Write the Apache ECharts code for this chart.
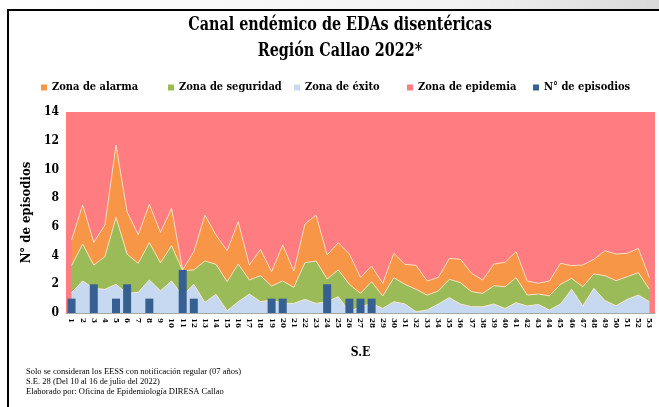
<!DOCTYPE html>
<html>
<head>
<meta charset="utf-8">
<script src="https://cdn.jsdelivr.net/npm/echarts@6/dist/echarts.min.js"></script>
<style>
body{margin:0;background:#fff;}
#chart{width:659px;height:407px;}
</style>
</head>
<body>
<div id="chart"></div>
<script>
// semanas epidemiologicas
var semanas = ['1','2','3','4','5','6','7','8','9','10','11','12','13','14','15','16','17','18','19','20',
	'21','22','23','24','25','26','27','28','29','30','31','32','33','34','35','36','37','38','39','40',
	'41','42','43','44','45','46','47','48','49','50','51','52','53'];
// limite superior de cada zona
var zonaAlarma = [5.08,7.52,4.92,6.13,11.7,7.05,5.45,7.57,5.62,7.29,3.0,4.27,6.82,5.43,4.34,6.36,3.34,4.43,2.88,4.74,
	2.92,6.2,6.82,4.04,4.9,4.11,2.48,3.27,2.07,4.16,3.39,3.32,2.23,2.48,3.81,3.74,2.76,2.3,3.41,3.53,
	4.27,2.23,2.07,2.23,3.46,3.3,3.34,3.74,4.34,4.11,4.16,4.5,2.46];
var zonaSeguridad = [3.3,4.8,3.34,3.92,6.66,4.1,3.46,4.9,3.5,4.69,2.95,3.0,3.62,3.39,2.18,3.41,2.3,2.6,1.88,2.23,
	1.79,3.5,3.62,2.37,3.0,2.0,1.37,2.18,1.18,2.46,2.0,1.65,1.25,1.53,2.35,2.11,1.48,1.37,1.9,1.83,
	2.46,1.25,1.32,1.2,2.0,2.41,1.83,2.72,2.6,2.25,2.53,2.81,1.65];
var zonaExito = [1.42,2.23,1.72,1.65,2.0,1.37,1.44,2.3,1.55,2.23,1.2,2.0,0.74,1.3,0.16,0.79,1.32,0.79,0.9,0.68,
	0.67,0.95,0.67,0.79,1.14,0.1,0.44,0.67,0.32,0.79,0.63,0.09,0.21,0.63,1.07,0.63,0.44,0.44,0.63,0.32,
	0.72,0.49,0.6,0.21,0.63,1.65,0.49,1.72,0.86,0.51,0.95,1.25,0.79];
var episodios = [1,0,2,0,1,2,0,1,0,0,3,1,0,0,0,0,0,0,1,1,0,0,0,2,0,1,1,1];
var yTicks = [0,2,4,6,8,10,12,14];

var fuente = "'DejaVu Serif Condensed','DejaVu Serif',serif";
var fuenteNota = "'Liberation Serif',serif";

function leyenda(nombre,left){
	return {
		left:left,
		top:77,
		icon:'rect',
		itemWidth:6,
		itemHeight:6,
		itemGap:0,
		selectedMode:false,
		textStyle:{color:'#000',fontSize:11,fontWeight:'bold',fontFamily:fuente},
		data:[nombre]
	};
}

function zona(nombre,datos,color,z){
	return {
		name:nombre,
		type:'line',
		data:datos,
		z:z,
		symbol:'none',
		color:color,
		lineStyle:{color:'rgba(255,236,215,0.85)',width:1},
		areaStyle:{color:color,opacity:1,origin:'start'},
		animation:false
	};
}

//titulo, un poco estrecho como en el original
function titulo(texto,y){
	return {
		type:'text',
		x:340,
		y:y,
		scaleX:0.84,
		style:{
			text:texto,
			x:0,
			y:0,
			textAlign:'center',
			textVerticalAlign:'middle',
			fill:'#000',
			fontSize:19,
			fontWeight:'bold',
			fontFamily:fuente
		}
	};
}

var chart = echarts.init(document.getElementById('chart'));
var option = {
	legend:[
		leyenda('Zona de alarma',36),
		leyenda('Zona de seguridad',163),
		leyenda('Zona de éxito',289),
		leyenda('Zona de epidemia',402),
		leyenda('N° de episodios',528)
	],
	grid:{
		left:66,
		right:4,
		top:112,
		bottom:94,
		show:true,
		backgroundColor:'#FF7C80',
		borderWidth:0
	},
	xAxis:{
		type:'category',
		data:semanas,
		name:'S.E',
		nameLocation:'middle',
		nameGap:34,
		nameTextStyle:{color:'#000',fontSize:12,fontWeight:'bold',fontFamily:fuente},
		axisLine:{lineStyle:{color:'#a6a6a6'}},
		axisTick:{show:false},
		axisLabel:{interval:0,hideOverlap:false,rotate:-90,margin:5,color:'#000',fontSize:8,fontWeight:'bold',fontFamily:fuente}
	},
	yAxis:{
		type:'value',
		min:yTicks[0],
		max:yTicks[yTicks.length-1],
		interval:2,
		name:'N° de episodios',
		nameLocation:'middle',
		nameRotate:90,
		nameGap:30,
		nameTextStyle:{color:'#000',fontSize:13,fontWeight:'bold',fontFamily:fuente},
		axisLine:{show:false},
		axisTick:{show:false},
		splitLine:{show:false},
		axisLabel:{color:'#000',fontSize:12,fontWeight:'bold',fontFamily:fuente,margin:7}
	},
	series:[
		zona('Zona de alarma',zonaAlarma,'#F79646',2),
		zona('Zona de seguridad',zonaSeguridad,'#9BBB59',3),
		zona('Zona de éxito',zonaExito,'#C6D9F1',4),
		{
			name:'Zona de epidemia',
			type:'line',
			color:'#FF7C80',
			data:[],
			animation:false
		},
		{
			name:'N° de episodios',
			type:'bar',
			data:episodios,
			barWidth:8,
			z:5,
			color:'#376092',
			itemStyle:{color:'#376092'},
			animation:false
		}
	],
	graphic:[
		{
			type:'rect',
			shape:{x:0,y:0,width:659,height:9},
			style:{fill:new echarts.graphic.LinearGradient(0,0,1,0,[{offset:0,color:'#ffffff'},{offset:0.7,color:'#f2f2f2'},{offset:1,color:'#d9d9d9'}])}
		},
		{
			type:'rect',
			shape:{x:8,y:10,width:700,height:420},
			style:{fill:'none',stroke:'#000',lineWidth:2}
		},
		titulo('Canal endémico de EDAs disentéricas',25),
		titulo('Región Callao 2022*',51),
		{
			type:'text',
			left:26,
			top:367,
			style:{
				text:'Solo se consideran los EESS con notificación regular (07 años)\nS.E. 28 (Del 10 al 16 de julio del 2022)\nElaborado por: Oficina de Epidemiología DIRESA Callao',
				fill:'#000',
				fontSize:8.5,
				lineHeight:10,
				fontFamily:fuenteNota
			}
		}
	]
};
chart.setOption(option);
</script>
</body>
</html>
